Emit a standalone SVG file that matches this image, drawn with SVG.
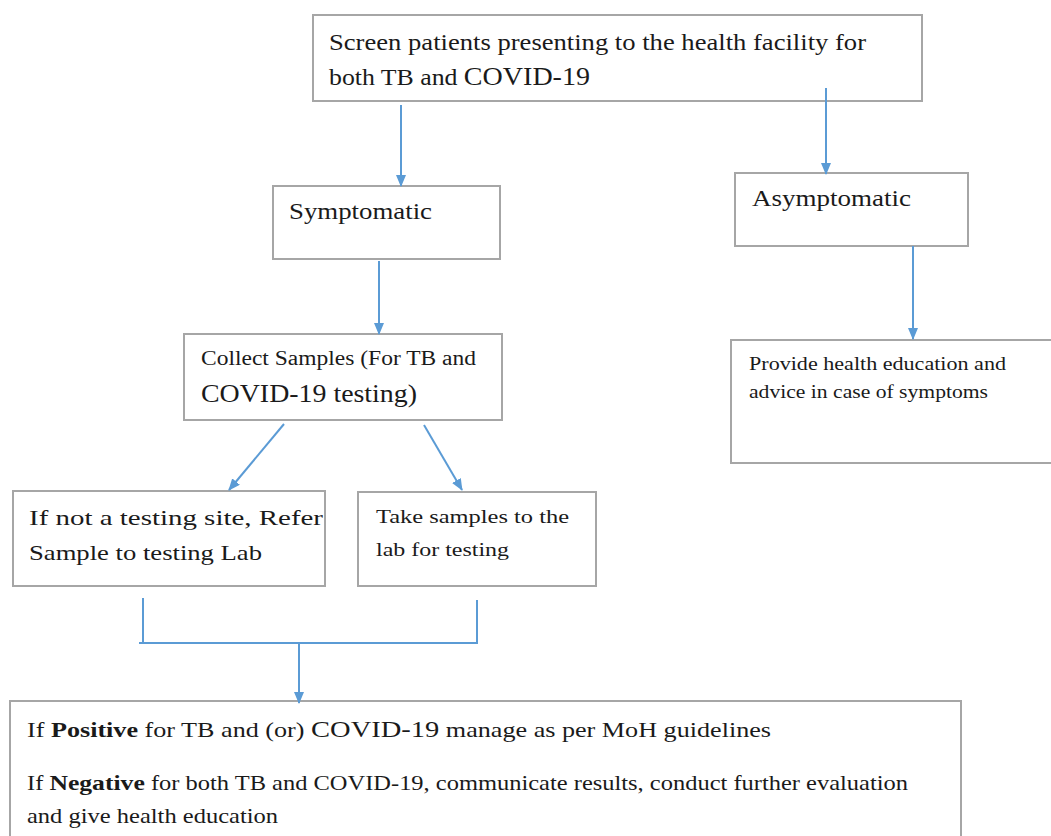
<svg xmlns="http://www.w3.org/2000/svg" width="1051" height="836" viewBox="0 0 1051 836">
<defs>
<marker id="ah" viewBox="0 0 12 10" refX="11" refY="5" markerWidth="12" markerHeight="10" orient="auto" markerUnits="userSpaceOnUse">
<path d="M0,0 L12,5 L0,10 z" fill="#5b9bd5"/>
</marker>
<style>
.box{fill:#fff;stroke:#a6a6a6;stroke-width:2}
.t{font-family:"Liberation Serif","DejaVu Serif",serif;fill:#1a1a1a}
.c{stroke:#5b9bd5;stroke-width:2;fill:none}
.ca{stroke:#5b9bd5;stroke-width:2;fill:none;marker-end:url(#ah)}
</style>
</defs>
<rect width="1051" height="836" fill="#fff"/>
<g id="screen">
<rect class="box" x="313" y="15" width="609" height="86"/>
<text class="t" x="329" y="50" font-size="23" textLength="537" lengthAdjust="spacingAndGlyphs">Screen patients presenting to the health facility for</text>
<text class="t" x="329" y="85" font-size="23" textLength="261" lengthAdjust="spacingAndGlyphs">both TB and <tspan font-size="25">COVID-19</tspan></text>
</g>
<g id="symptomatic">
<rect class="box" x="273" y="186" width="227" height="73"/>
<text class="t" x="289" y="219" font-size="23" textLength="143" lengthAdjust="spacingAndGlyphs">Symptomatic</text>
</g>
<g id="asymptomatic">
<rect class="box" x="735" y="173" width="233" height="73"/>
<text class="t" x="752" y="206" font-size="23" textLength="159" lengthAdjust="spacingAndGlyphs">Asymptomatic</text>
</g>
<g id="provide">
<rect class="box" x="731" y="340" width="340" height="123"/>
<text class="t" x="749" y="370" font-size="18" textLength="257" lengthAdjust="spacingAndGlyphs">Provide health education and</text>
<text class="t" x="749" y="398" font-size="18" textLength="239" lengthAdjust="spacingAndGlyphs">advice in case of symptoms</text>
</g>
<g id="collect">
<rect class="box" x="184" y="334" width="318" height="86"/>
<text class="t" x="201" y="365" font-size="20" textLength="275" lengthAdjust="spacingAndGlyphs">Collect Samples (For TB and</text>
<text class="t" x="201" y="402" font-size="25" textLength="216" lengthAdjust="spacingAndGlyphs">COVID-19 testing)</text>
</g>
<g id="refer">
<rect class="box" x="13" y="491" width="312" height="95"/>
<text class="t" x="29" y="525" font-size="22" textLength="294" lengthAdjust="spacingAndGlyphs">If not a testing site, Refer</text>
<text class="t" x="29" y="560" font-size="22" textLength="233" lengthAdjust="spacingAndGlyphs">Sample to testing Lab</text>
</g>
<g id="take">
<rect class="box" x="358" y="492" width="238" height="94"/>
<text class="t" x="376" y="523" font-size="19" textLength="193" lengthAdjust="spacingAndGlyphs">Take samples to the</text>
<text class="t" x="376" y="556" font-size="19" textLength="133" lengthAdjust="spacingAndGlyphs">lab for testing</text>
</g>
<g id="result">
<rect class="box" x="10" y="701" width="951" height="150"/>
<text class="t" x="27" y="737" font-size="22" textLength="744" lengthAdjust="spacingAndGlyphs">If <tspan font-weight="bold">Positive</tspan> for TB and (or) <tspan font-size="24">COVID-19</tspan> manage as per MoH guidelines</text>
<text class="t" x="27" y="790" font-size="21" textLength="881" lengthAdjust="spacingAndGlyphs">If <tspan font-weight="bold" font-size="22">Negative</tspan> for both TB and COVID-19, communicate results, conduct further evaluation</text>
<text class="t" x="27" y="823" font-size="21" textLength="251" lengthAdjust="spacingAndGlyphs">and give health education</text>
</g>
<g id="connectors">
<line class="ca" x1="401" y1="105" x2="401" y2="186"/>
<line class="ca" x1="826" y1="88" x2="826" y2="174"/>
<line class="ca" x1="379" y1="261" x2="379" y2="334"/>
<line class="ca" x1="913" y1="246" x2="913" y2="339"/>
<line class="ca" x1="284" y1="424" x2="229" y2="490"/>
<line class="ca" x1="424" y1="425" x2="462" y2="490"/>
<line class="c" x1="143" y1="598" x2="143" y2="644"/>
<line class="c" x1="477" y1="600" x2="477" y2="644"/>
<line class="c" x1="139" y1="643" x2="478" y2="643"/>
<line class="ca" x1="299" y1="643" x2="299" y2="703"/>
</g>
</svg>
